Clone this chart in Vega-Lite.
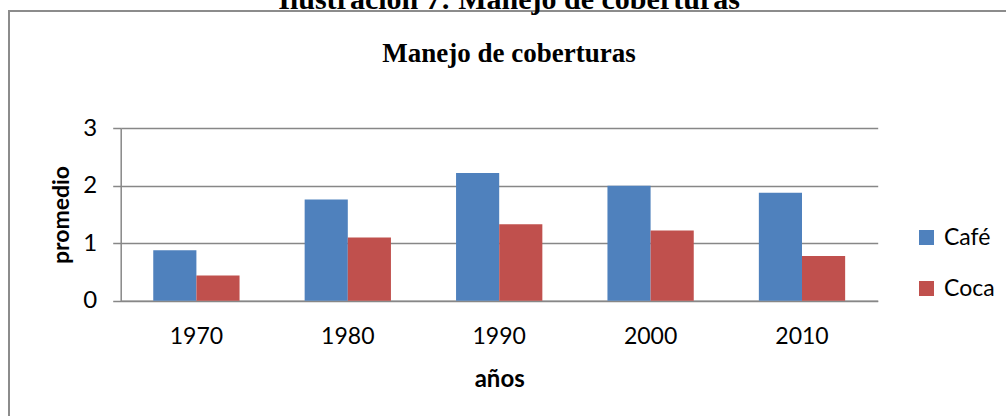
{
  "$schema": "https://vega.github.io/schema/vega-lite/v6.json",
  "autosize": {"type": "none"},
  "width": 1000,
  "height": 415,
  "padding": {"left": 9, "top": 11, "right": -3, "bottom": -10},
  "background": "white",
  "title": {
    "text": "Ilustración 7: Manejo de coberturas",
    "subtitle": "Manejo de coberturas",
    "anchor": "middle",
    "frame": "group",
    "font": "Liberation Serif",
    "fontSize": 30,
    "fontWeight": "bold",
    "color": "black",
    "subtitleFont": "Liberation Serif",
    "subtitleFontSize": 27,
    "subtitleFontWeight": "bold",
    "subtitleColor": "black",
    "subtitlePadding": 26,
    "offset": -56
  },
  "data": {
    "values": [
      {"anio": "1970", "serie": "Café", "promedio": 0.88},
      {"anio": "1970", "serie": "Coca", "promedio": 0.44},
      {"anio": "1980", "serie": "Café", "promedio": 1.76},
      {"anio": "1980", "serie": "Coca", "promedio": 1.10},
      {"anio": "1990", "serie": "Café", "promedio": 2.22},
      {"anio": "1990", "serie": "Coca", "promedio": 1.33},
      {"anio": "2000", "serie": "Café", "promedio": 2.0},
      {"anio": "2000", "serie": "Coca", "promedio": 1.22},
      {"anio": "2010", "serie": "Café", "promedio": 1.88},
      {"anio": "2010", "serie": "Coca", "promedio": 0.78}
    ]
  },
  "mark": {"type": "bar"},
  "encoding": {
    "x": {
      "field": "anio",
      "type": "nominal",
      "scale": {"range": [111.7, 868.7], "paddingInner": 0.43, "paddingOuter": 0.215},
      "axis": {
        "title": "años",
        "orient": "bottom",
        "offset": -125.3,
        "labelAngle": 0,
        "ticks": false,
        "tickSize": 0,
        "grid": false,
        "domainColor": "#878787",
        "domainWidth": 1.5,
        "labelFont": "Lato",
        "labelFontSize": 23,
        "labelColor": "black",
        "labelPadding": 25,
        "titleFont": "Lato",
        "titleFontSize": 24,
        "titleFontWeight": "bold",
        "titleColor": "black",
        "titlePadding": 19
      }
    },
    "xOffset": {
      "field": "serie",
      "type": "nominal",
      "scale": {"paddingInner": 0, "paddingOuter": 0}
    },
    "y": {
      "field": "promedio",
      "type": "quantitative",
      "scale": {"domain": [0, 3], "range": [289.7, 117.3], "nice": false},
      "axis": {
        "title": "promedio",
        "values": [0, 1, 2, 3],
        "offset": -111.7,
        "grid": true,
        "gridColor": "#878787",
        "gridWidth": 1.5,
        "domainColor": "#878787",
        "domainWidth": 1.5,
        "tickColor": "#878787",
        "tickWidth": 1.5,
        "tickSize": 8,
        "labelFont": "Lato",
        "labelFontSize": 24,
        "labelColor": "black",
        "labelPadding": 16,
        "titleFont": "Lato",
        "titleFontSize": 23,
        "titleFontWeight": "bold",
        "titleColor": "black",
        "titlePadding": 9
      }
    },
    "color": {
      "field": "serie",
      "type": "nominal",
      "scale": {"domain": ["Café", "Coca"], "range": ["#4F81BD", "#C0504D"]},
      "legend": {
        "title": null,
        "orient": "none",
        "legendX": 906,
        "legendY": 215,
        "padding": 0,
        "symbolType": "square",
        "symbolSize": 225,
        "symbolStrokeWidth": 0,
        "symbolOpacity": 1,
        "labelFont": "Lato",
        "labelFontSize": 23,
        "labelColor": "black",
        "labelOffset": 6,
        "rowPadding": 27
      }
    }
  },
  "config": {
    "view": {"stroke": "#8c8c8c", "strokeWidth": 2}
  }
}
